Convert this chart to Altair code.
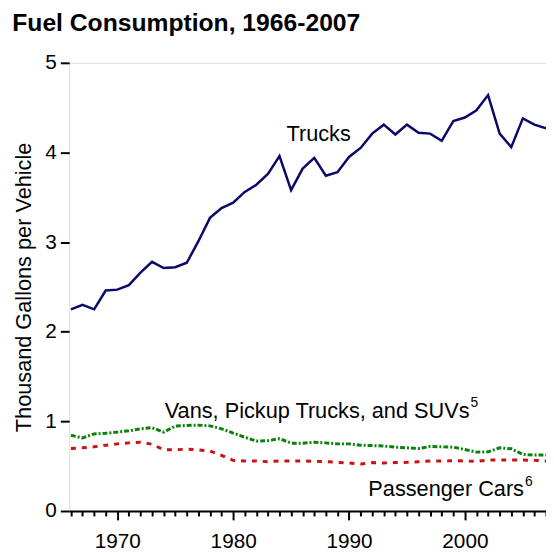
import altair as alt
import pandas as pd

years = [1966, 1967, 1968, 1969, 1970, 1971, 1972, 1973, 1974, 1975,
         1976, 1977, 1978, 1979, 1980, 1981, 1982, 1983, 1984, 1985,
         1986, 1987, 1988, 1989, 1990, 1991, 1992, 1993, 1994, 1995,
         1996, 1997, 1998, 1999, 2000, 2001, 2002, 2003, 2004, 2005,
         2006, 2007]

trucks = [2.25, 2.30, 2.25, 2.46, 2.47, 2.52, 2.66, 2.78, 2.71, 2.72,
          2.77, 3.01, 3.27, 3.38, 3.44, 3.56, 3.64, 3.76, 3.96, 3.58,
          3.82, 3.94, 3.74, 3.78, 3.95, 4.05, 4.21, 4.31, 4.20, 4.31,
          4.22, 4.21, 4.13, 4.35, 4.39, 4.47, 4.64, 4.21, 4.06, 4.38,
          4.31, 4.27]

vans = [0.845, 0.815, 0.86, 0.867, 0.88, 0.895, 0.917, 0.93, 0.88, 0.947,
        0.955, 0.958, 0.95, 0.917, 0.87, 0.823, 0.78, 0.785, 0.807, 0.757,
        0.757, 0.767, 0.76, 0.749, 0.749, 0.734, 0.73, 0.725, 0.712, 0.705,
        0.697, 0.72, 0.716, 0.712, 0.686, 0.657, 0.66, 0.705, 0.694, 0.631,
        0.624, 0.624]

cars = [0.697, 0.705, 0.716, 0.734, 0.749, 0.76, 0.767, 0.745, 0.683, 0.683,
        0.69, 0.683, 0.668, 0.62, 0.565, 0.558, 0.558, 0.55, 0.558, 0.558,
        0.558, 0.555, 0.55, 0.543, 0.536, 0.525, 0.54, 0.536, 0.54, 0.543,
        0.55, 0.558, 0.558, 0.561, 0.558, 0.554, 0.569, 0.569, 0.569, 0.569,
        0.565, 0.558]

y_ticks = [0, 1, 2, 3, 4, 5]

# series labels: text ends (right-aligned) at label_year, superscript follows
label_text = ["Trucks", "Vans, Pickup Trucks, and SUVs", "Passenger Cars"]
label_sup = ["", "5", "6"]
label_year = [1990.15, 2000.4, 2005.1]
label_value = [4.2, 1.12, 0.24]

FONT = "Liberation Sans"

df = pd.DataFrame({"year": years, "Trucks": trucks, "Vans": vans, "Cars": cars})
labels = pd.DataFrame({"year": label_year, "value": label_value,
                       "text": label_text, "sup": label_sup})

x_scale = alt.Scale(domain=[1965.85, 2007], nice=False, zero=False)
y_scale = alt.Scale(domain=[0, 5], nice=False)

x_axis = alt.Axis(
    values=years, format="d", title=None,
    labelExpr="datum.value % 10 === 0 ? datum.label : ''",
    tickSize=alt.condition("datum.value % 10 === 0", alt.value(9), alt.value(5)),
    tickWidth=2, tickColor="black", domainColor="black", domainWidth=2,
    labelFontSize=21, labelFont=FONT, labelColor="black",
    labelPadding=11, labelOverlap=False, labelFlush=False, grid=False,
)
y_axis = alt.Axis(
    values=y_ticks, format="d", title="Thousand Gallons per Vehicle",
    tickSize=9, tickWidth=2, tickColor="black", domain=False,
    labelFontSize=21, labelFont=FONT, labelColor="black", labelPadding=4,
    titleFontSize=22, titleFont=FONT, titleFontWeight="normal", titleColor="black",
    titlePadding=10, grid=False,
)

base = alt.Chart(df)

trucks_line = base.mark_line(color="#0a0a66", strokeWidth=2.5).encode(
    x=alt.X("year:Q", scale=x_scale, axis=x_axis),
    y=alt.Y("Trucks:Q", scale=y_scale, axis=y_axis),
)
vans_line = base.mark_line(color="#0a820a", strokeWidth=3, strokeDash=[5, 2, 2, 2]).encode(
    x=alt.X("year:Q", scale=x_scale, axis=x_axis),
    y=alt.Y("Vans:Q", scale=y_scale, axis=y_axis),
)
cars_line = base.mark_line(color="#cc1111", strokeWidth=3, strokeDash=[5, 6]).encode(
    x=alt.X("year:Q", scale=x_scale, axis=x_axis),
    y=alt.Y("Cars:Q", scale=y_scale, axis=y_axis),
)
text = alt.Chart(labels).mark_text(
    font=FONT, fontSize=22, color="black", align="right", baseline="middle"
).encode(
    x=alt.X("year:Q", scale=x_scale, axis=x_axis),
    y=alt.Y("value:Q", scale=y_scale, axis=y_axis),
    text="text:N",
)
sup = alt.Chart(labels).mark_text(
    font=FONT, fontSize=14, color="black", align="left", baseline="middle", dx=1, dy=-8
).encode(
    x=alt.X("year:Q", scale=x_scale, axis=x_axis),
    y=alt.Y("value:Q", scale=y_scale, axis=y_axis),
    text="sup:N",
)

chart = alt.layer(trucks_line, vans_line, cars_line, text, sup).properties(
    width=483, height=454,
    title=alt.TitleParams(
        "Fuel Consumption, 1966-2007", anchor="start", frame="bounds",
        font=FONT, fontSize=25, fontWeight="bold", color="black", offset=16,
    ),
    autosize=alt.AutoSizeParams(type="none"),
    padding={"left": 62, "top": 52, "right": 0, "bottom": 39},
).configure_view(stroke=None).configure(background="white")

chart.save("out.html", embed_options={"renderer": "svg", "actions": False})
